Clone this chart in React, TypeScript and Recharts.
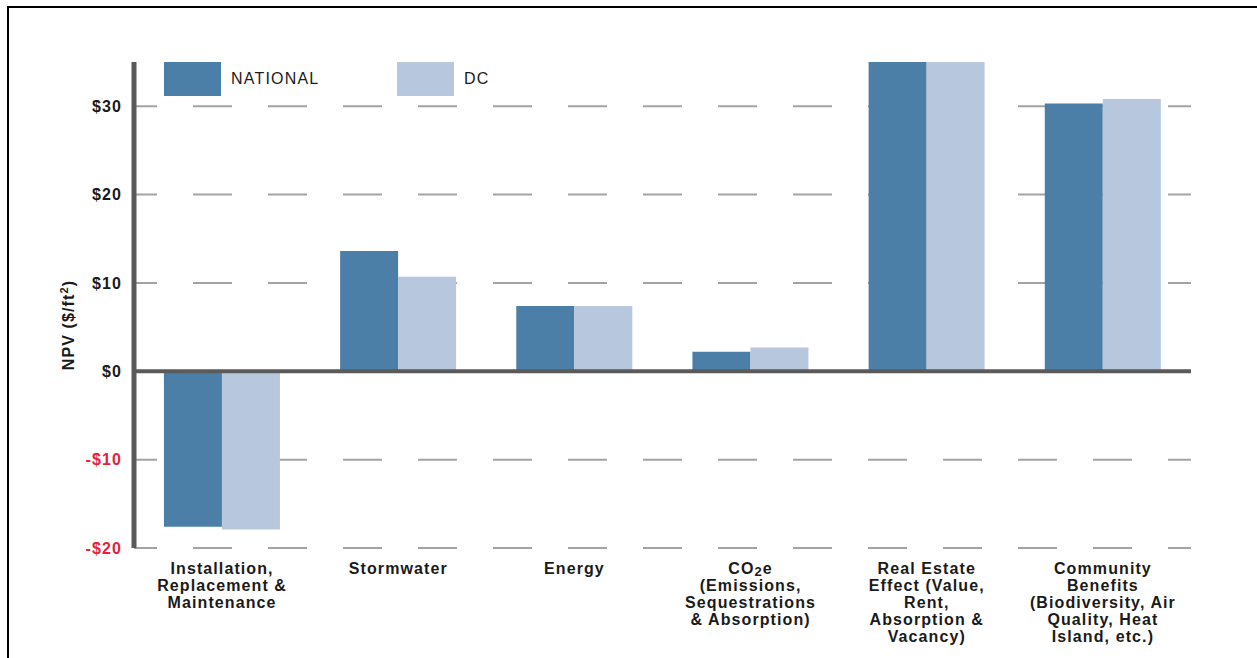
import { Bar, BarChart, CartesianGrid, ReferenceLine, XAxis, YAxis } from "recharts";

const CATEGORIES = [
  "Installation,\nReplacement &\nMaintenance",
  "Stormwater",
  "Energy",
  "CO_2e\n(Emissions,\nSequestrations\n& Absorption)",
  "Real Estate\nEffect (Value,\nRent,\nAbsorption &\nVacancy)",
  "Community\nBenefits\n(Biodiversity, Air\nQuality, Heat\nIsland, etc.)",
];
const NATIONAL = [-17.6, 13.6, 7.4, 2.2, 35, 30.3];
const DC = [-17.9, 10.7, 7.4, 2.7, 35, 30.8];
const Y_TICKS = [-20, -10, 0, 10, 20, 30];

const SERIES = [
  { key: "national", name: "NATIONAL", color: "#4c7fa8" },
  { key: "dc", name: "DC", color: "#b7c8de" },
];

const data = CATEGORIES.map((c, i) => ({ cat: c, national: NATIONAL[i], dc: DC[i] }));

const FONT = "'Liberation Sans', Arial, sans-serif";
const AXIS = "#5a5a5a";
const GRID = "#a3a3a3";
const INK = "#1a1a1a";
const RED = "#e8213b";

// "_2" -> subscript 2, "^2" -> superscript 2
function richLine(s: string) {
  const parts = s.split(/([_^]2)/);
  return parts.map((p, i) => {
    if (p === "_2") return <tspan key={i} dy={2} fontSize={13}>2</tspan>;
    if (p === "^2") return <tspan key={i} dy={-6} fontSize={11}>2</tspan>;
    const prev = parts[i - 1];
    const back = prev === "_2" ? -2 : prev === "^2" ? 6 : 0;
    return <tspan key={i} dy={back}>{p}</tspan>;
  });
}

function XTick(props: any) {
  const { x, y, payload } = props;
  const lines = String(payload.value).split("\n");
  return (
    <g>
      {lines.map((l, i) => (
        <text key={i} x={x} y={y + 18 + i * 17} textAnchor="middle" fill={INK}
          fontFamily={FONT} fontWeight="bold" fontSize={16} letterSpacing={1.1}>
          {richLine(l)}
        </text>
      ))}
    </g>
  );
}

function YTick(props: any) {
  const { x, y, payload } = props;
  const v = payload.value as number;
  const label = v < 0 ? `-$${Math.abs(v)}` : `$${v}`;
  return (
    <text x={x} y={y} dy="0.36em" textAnchor="end" fill={v < 0 ? RED : INK}
      fontFamily={FONT} fontWeight="bold" fontSize={16} letterSpacing={1.1}>
      {label}
    </text>
  );
}

function YLabel(props: any) {
  const { viewBox } = props;
  const cx = viewBox.x;
  const cy = viewBox.y + viewBox.height / 2 + 20;
  return (
    <text x={cx} y={cy} transform={`rotate(-90 ${cx} ${cy})`} textAnchor="middle" fill={INK}
      fontFamily={FONT} fontWeight="bold" fontSize={16} letterSpacing={1.1}>
      {richLine("NPV ($/ft^2)")}
    </text>
  );
}

function Legend() {
  return (
    <div style={{ position: "absolute", left: 164, top: 62, display: "flex", fontFamily: FONT }}>
      {SERIES.map((s) => (
        <div key={s.key} style={{ display: "flex", alignItems: "center", width: 233 }}>
          <div style={{ width: 57, height: 34, background: s.color }} />
          <span style={{ marginLeft: 10, fontSize: 16, letterSpacing: 1.2, color: INK }}>{s.name}</span>
        </div>
      ))}
    </div>
  );
}

export default function App() {
  return (
    <div style={{ position: "absolute", left: 0, top: 0, width: 1257, height: 658, background: "#fff" }}>
      <div style={{
        position: "absolute", left: 7, top: 6, width: 1250, height: 652, boxSizing: "border-box",
        borderTop: "2px solid #000", borderLeft: "2.5px solid #000",
      }} />
      <BarChart width={1257} height={658} data={data}
        margin={{ top: 62, right: 66, left: 74, bottom: 0 }}
        barCategoryGap="17%" barGap={0}>
        <CartesianGrid vertical={false} stroke={GRID} strokeWidth={2} syncWithTicks
          strokeDasharray="39 36" strokeDashoffset={16} />
        <XAxis dataKey="cat" axisLine={false} tickLine={false} interval={0} height={110} tick={<XTick />} />
        <YAxis type="number" domain={[-20, 35]} ticks={Y_TICKS} width={60} tickLine={false}
          axisLine={{ stroke: AXIS, strokeWidth: 5 }} tickMargin={6} tick={<YTick />}
          allowDataOverflow label={<YLabel />} />
        <ReferenceLine y={0} stroke={AXIS} strokeWidth={4} />
        {SERIES.map((s) => (
          <Bar key={s.key} dataKey={s.key} name={s.name} fill={s.color} isAnimationActive={false} />
        ))}
      </BarChart>
      <Legend />
    </div>
  );
}
